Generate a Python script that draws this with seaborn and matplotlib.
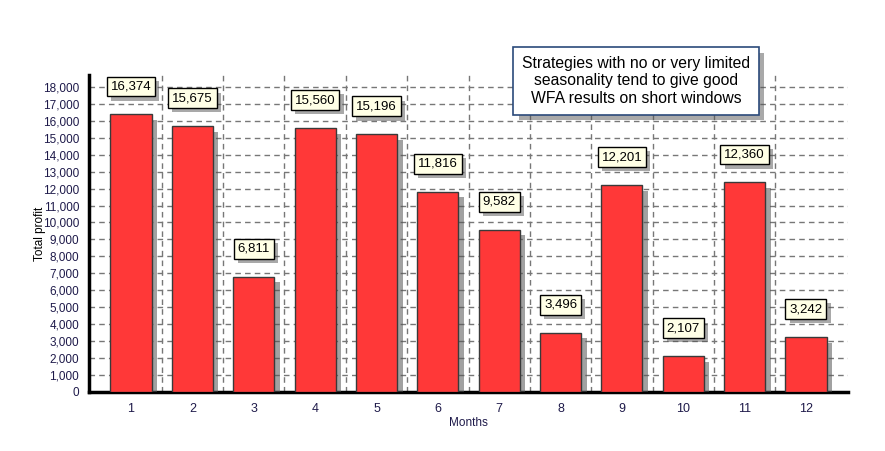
import matplotlib
matplotlib.use("Agg")
import matplotlib.pyplot as plt
import matplotlib.patheffects as pe
from matplotlib.ticker import MultipleLocator, FixedLocator, FuncFormatter
import seaborn as sns
import pandas as pd
import numpy as np

months = ["1", "2", "3", "4", "5", "6", "7", "8", "9", "10", "11", "12"]
profit = [16374, 15675, 6811, 15560, 15196, 11816, 9582, 3496, 12201, 2107, 12360, 3242]
note = "Strategies with no or very limited\nseasonality tend to give good\nWFA results on short windows"

sns.set_style("white")
plt.rcParams["font.family"] = ["Liberation Sans", "DejaVu Sans"]

df = pd.DataFrame({"Months": months, "Total profit": profit})

fig = plt.figure(figsize=(8.85, 4.51), dpi=100)
ax = fig.add_axes([89/885, 1-392/451, (848-89)/885, (392-75)/451])

sns.barplot(data=df, x="Months", y="Total profit", color="#FF3838", saturation=1,
            width=0.67, edgecolor="#3a3a3a", linewidth=1.0, ax=ax, zorder=3)

shadow = [pe.SimplePatchShadow(offset=(4, -4), shadow_rgbFace="#555555", alpha=0.55), pe.Normal()]
for p in ax.patches:
    p.set_path_effects(shadow)

ax.set_xlim(-0.685, 11.685)
ax.set_ylim(0, 18700)

# grid
ax.yaxis.set_major_locator(MultipleLocator(1000))
ax.yaxis.set_major_formatter(FuncFormatter(lambda v, _: f"{int(v):,}"))
for y in range(1000, 18001, 1000):
    ax.axhline(y, color="#777777", lw=1, ls=(0, (4, 3)), zorder=1)
for xv in np.arange(0.5, 11.0, 1.0):
    ax.axvline(xv, color="#777777", lw=1, ls=(0, (4, 3)), zorder=1)

ax.xaxis.set_minor_locator(FixedLocator(
    sorted(set([i + d for i in range(12) for d in (-0.25, 0.25)] + [i + 0.5 for i in range(-1, 12)]))))
ax.tick_params(axis="x", which="major", length=0, pad=8, labelsize=9, labelcolor="#1e1a4a")
ax.tick_params(axis="x", which="minor", length=4, width=0.8, color="#333333", direction="out")
ax.tick_params(axis="y", which="major", length=4, width=0.8, color="#333333", pad=3,
               labelsize=8.5, labelcolor="#1e1a4a", direction="out")

for s in ["top", "right"]:
    ax.spines[s].set_visible(False)
ax.spines["left"].set_linewidth(2.5)
ax.spines["bottom"].set_linewidth(2.5)
ax.spines["left"].set_color("black")
ax.spines["bottom"].set_color("black")

ax.set_xlabel("Months", fontsize=8.5, color="#1e1a4a", labelpad=1)
ax.set_ylabel("Total profit", fontsize=8.5, color="black")
ax.yaxis.set_label_coords((46 - 89) / 759, 0.5)

# value labels
for i, v in enumerate(profit):
    t = ax.text(i, v + 1650, f"{v:,}", ha="center", va="center", fontsize=9.5,
                color="black", zorder=5,
                bbox=dict(boxstyle="square,pad=0.3", fc="#FFFFE6", ec="black", lw=1))
    t.get_bbox_patch().set_path_effects(
        [pe.SimplePatchShadow(offset=(3, -3), shadow_rgbFace="#555555", alpha=0.5), pe.Normal()])

# note box
nt = fig.text((512 + 760) / 2 / 885, 1 - 81 / 451, note, ha="center", va="center",
              fontsize=11.3, color="black", linespacing=1.2, zorder=6,
              bbox=dict(boxstyle="square,pad=0.55", fc="white", ec="#2b4a7a", lw=1.2))
nt.get_bbox_patch().set_path_effects(
    [pe.SimplePatchShadow(offset=(4, -4), shadow_rgbFace="#555555", alpha=0.5), pe.Normal()])

fig.savefig("out.png", dpi=100)
